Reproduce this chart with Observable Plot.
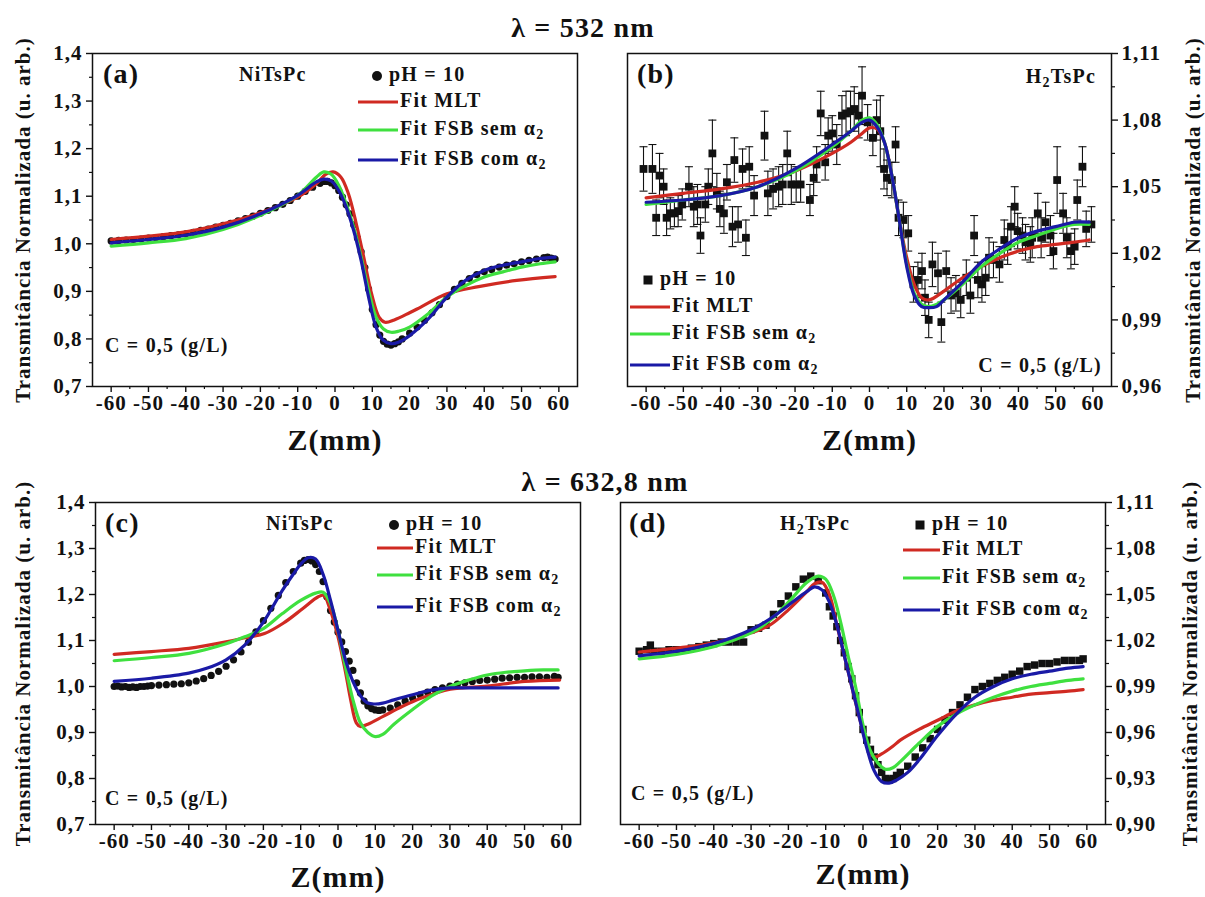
<!DOCTYPE html>
<html><head><meta charset="utf-8">
<script src="https://cdn.jsdelivr.net/npm/d3@7"></script>
<script src="https://cdn.jsdelivr.net/npm/@observablehq/plot@0.6"></script>
<style>
body{margin:0;background:#fff;}
#root{position:relative;width:1205px;height:897px;overflow:hidden;background:#fff;font-family:"Liberation Serif","DejaVu Serif",serif;color:#111;}
.pan{position:absolute;}
.lbl{position:absolute;white-space:nowrap;font-weight:bold;line-height:1;z-index:3;letter-spacing:1.2px;}
.lbl svg{vertical-align:middle;}
.lbl sub{font-size:70%;vertical-align:-0.3em;line-height:0;}
</style></head>
<body><div id="root"></div>
<script>
// ---------- data ----------
const ZMAJOR = [-60,-50,-40,-30,-20,-10,0,10,20,30,40,50,60];
const ZMINOR = [-55,-45,-35,-25,-15,-5,5,15,25,35,45,55];
const NI_YMAJOR = [0.7,0.8,0.9,1.0,1.1,1.2,1.3,1.4];
const NI_YMINOR = [0.75,0.85,0.95,1.05,1.15,1.25,1.35];
const B_YMAJOR = [0.96,0.99,1.02,1.05,1.08,1.11];
const B_YMINOR = [0.975,1.005,1.035,1.065,1.095];
const D_YMAJOR = [0.90,0.93,0.96,0.99,1.02,1.05,1.08,1.11];
const D_YMINOR = [0.915,0.945,0.975,1.005,1.035,1.065,1.095];

// (a) 532 nm, NiTsPc
const aData = [[-60,1.006],[-58,1.007],[-56,1.008],[-54,1.009],[-52,1.010],[-50,1.012],[-48,1.013],[-46,1.015],[-44,1.017],[-42,1.019],[-40,1.021],[-38,1.024],[-36,1.028],[-34,1.031],[-32,1.035],[-30,1.039],[-28,1.043],[-26,1.048],[-24,1.053],[-22,1.058],[-20,1.064],[-18,1.070],[-16,1.076],[-14,1.083],[-12,1.091],[-10,1.100],[-8,1.110],[-6,1.119],[-4,1.127],[-3,1.131],[-2,1.131],[-1,1.128],[0,1.122],[1,1.112],[2,1.098],[3,1.082],[4,1.063],[5,1.040],[6,1.012],[7,0.983],[8,0.950],[9,0.905],[10,0.862],[11,0.830],[12,0.808],[13,0.795],[14,0.789],[15,0.787],[16,0.790],[17,0.794],[18,0.800],[20,0.812],[22,0.825],[24,0.839],[26,0.855],[28,0.872],[30,0.889],[32,0.904],[34,0.917],[36,0.927],[38,0.935],[40,0.941],[42,0.946],[44,0.951],[46,0.955],[48,0.958],[50,0.962],[52,0.965],[54,0.968],[56,0.971],[57,0.972],[58,0.970],[59,0.968]];
const aMLT = [[-60,1.009],[-50,1.016],[-40,1.025],[-30,1.042],[-20,1.065],[-10,1.098],[-5,1.126],[-2.5,1.146],[-0.5,1.151],[1.6,1.140],[3.6,1.105],[5.7,1.042],[7.7,0.972],[9.8,0.895],[11.8,0.846],[13.4,0.835],[15.9,0.840],[20,0.855],[23,0.867],[30,0.895],[38.5,0.910],[48.7,0.923],[59,0.931]];
const aSEM = [[-60,0.995],[-50,1.002],[-40,1.011],[-30,1.030],[-20,1.060],[-10,1.102],[-5,1.140],[-3,1.151],[-1,1.146],[1,1.123],[3,1.084],[5,1.035],[7,0.972],[9,0.902],[11,0.846],[13,0.821],[15,0.814],[17,0.816],[20,0.825],[25,0.853],[30,0.888],[35,0.912],[40,0.930],[45,0.941],[50,0.951],[55,0.958],[59,0.962]];
const aCOM = [[-60,1.002],[-50,1.009],[-40,1.018],[-30,1.035],[-20,1.063],[-10,1.102],[-5,1.130],[-3,1.136],[-1,1.132],[1,1.112],[3,1.077],[5,1.028],[7,0.965],[9,0.888],[11,0.825],[13,0.797],[15,0.790],[17,0.793],[20,0.807],[25,0.842],[30,0.888],[35,0.923],[40,0.944],[45,0.955],[50,0.962],[55,0.969],[59,0.972]];

// (b) 532 nm, H2TsPc : [z, T, erro]
const bData = [[-60.7,1.058,0.010],[-58.3,1.058,0.011],[-57.3,1.036,0.008],[-56.4,1.055,0.010],[-55.3,1.050,0.008],[-54.5,1.036,0.008],[-53.5,1.038,0.007],[-52.4,1.038,0.006],[-51.4,1.039,0.007],[-50.3,1.042,0.007],[-48.5,1.050,0.009],[-47.2,1.041,0.009],[-46.2,1.042,0.009],[-45.4,1.028,0.008],[-44.1,1.042,0.008],[-43.3,1.050,0.008],[-42.2,1.065,0.015],[-41.0,1.048,0.008],[-40.2,1.040,0.008],[-39.1,1.038,0.009],[-38.3,1.052,0.008],[-36.8,1.032,0.009],[-36.3,1.062,0.010],[-35.3,1.033,0.008],[-34.1,1.058,0.009],[-33.2,1.027,0.008],[-32.3,1.059,0.009],[-31.0,1.046,0.009],[-28.2,1.073,0.011],[-27.3,1.047,0.010],[-25.9,1.049,0.009],[-24.4,1.050,0.009],[-23.3,1.051,0.009],[-22.1,1.065,0.010],[-21.0,1.051,0.009],[-19.7,1.051,0.008],[-18.5,1.051,0.008],[-16.0,1.044,0.007],[-15.0,1.054,0.008],[-14.2,1.060,0.008],[-13.1,1.083,0.010],[-11.9,1.061,0.008],[-11.1,1.073,0.008],[-10.0,1.074,0.008],[-8.8,1.069,0.009],[-7.4,1.082,0.009],[-6.3,1.083,0.010],[-5.1,1.084,0.009],[-4.1,1.085,0.010],[-2.9,1.082,0.010],[-2.0,1.091,0.013],[-0.5,1.079,0.008],[0.9,1.072,0.008],[1.9,1.080,0.009],[2.9,1.075,0.016],[3.9,1.058,0.009],[4.7,1.054,0.008],[6.0,1.053,0.008],[7.0,1.069,0.008],[7.8,1.036,0.008],[9.1,1.035,0.008],[10.4,1.029,0.008],[11.8,1.006,0.008],[13.0,1.008,0.008],[14.1,1.012,0.008],[14.9,1.000,0.008],[15.9,0.990,0.008],[16.9,1.015,0.010],[18.4,1.011,0.009],[19.3,0.989,0.009],[20.6,1.012,0.009],[21.9,1.001,0.008],[23.2,1.002,0.008],[24.5,0.999,0.008],[26.0,1.009,0.008],[27.1,1.001,0.008],[28.1,1.028,0.009],[29.1,1.008,0.008],[30.2,1.006,0.008],[31.2,1.009,0.008],[32.1,1.018,0.009],[33.3,1.017,0.008],[34.9,1.015,0.008],[36.2,1.026,0.009],[37.1,1.023,0.008],[38.0,1.032,0.009],[39.0,1.041,0.009],[39.8,1.030,0.008],[41.1,1.028,0.008],[41.9,1.025,0.008],[43.2,1.024,0.008],[43.7,1.027,0.009],[45.2,1.038,0.009],[46.1,1.027,0.009],[47.3,1.034,0.009],[48.6,1.028,0.009],[49.4,1.021,0.008],[50.4,1.053,0.015],[52.0,1.038,0.009],[53.0,1.027,0.009],[54.1,1.021,0.008],[55.1,1.023,0.008],[55.8,1.044,0.009],[57.2,1.059,0.009],[58.2,1.031,0.008],[59.6,1.033,0.008]];
const bMLT = [[-60,1.045],[-50,1.047],[-40,1.049],[-30,1.052],[-20,1.057],[-10,1.065],[-5,1.070],[-2,1.074],[0,1.0765],[2,1.076],[4,1.070],[6,1.055],[8,1.035],[10,1.018],[12,1.006],[14,1.000],[16,0.999],[20,1.003],[25,1.009],[30,1.014],[35,1.018],[40,1.021],[45,1.023],[50,1.024],[55,1.025],[59,1.026]];
const bSEM = [[-60,1.042],[-50,1.044],[-40,1.046],[-30,1.050],[-20,1.057],[-10,1.068],[-5,1.075],[-2,1.080],[0,1.081],[2,1.078],[4,1.070],[6,1.055],[8,1.035],[10,1.015],[12,1.002],[14,0.997],[16,0.996],[18,0.997],[20,0.999],[25,1.006],[30,1.014],[35,1.020],[40,1.025],[45,1.028],[50,1.031],[55,1.033],[59,1.033]];
const bCOM = [[-60,1.043],[-50,1.044],[-40,1.046],[-30,1.050],[-20,1.058],[-10,1.069],[-5,1.075],[-2,1.079],[0,1.080],[2,1.077],[4,1.070],[6,1.055],[8,1.035],[10,1.014],[12,1.001],[14,0.996],[16,0.9955],[18,0.996],[20,0.999],[25,1.007],[30,1.016],[35,1.022],[40,1.027],[45,1.030],[50,1.032],[55,1.034],[59,1.034]];

// (c) 632,8 nm, NiTsPc
const cData = [[-60,1.000],[-59,1.001],[-58,0.999],[-57,1.000],[-56,0.998],[-55,0.999],[-54,0.998],[-53,1.000],[-52,1.000],[-51,1.001],[-50,1.002],[-48,1.003],[-46,1.004],[-44,1.005],[-42,1.006],[-40,1.008],[-38,1.012],[-36,1.017],[-34,1.024],[-32,1.033],[-30,1.044],[-28,1.058],[-26,1.075],[-24,1.096],[-22,1.119],[-20,1.143],[-18,1.170],[-16,1.198],[-14,1.226],[-12,1.250],[-10,1.268],[-9,1.274],[-8,1.276],[-7,1.273],[-6,1.265],[-5,1.250],[-4,1.228],[-3,1.195],[-2,1.165],[-1,1.140],[0,1.118],[1,1.097],[2,1.076],[3,1.055],[4,1.035],[5,1.008],[6,0.986],[7,0.968],[8,0.958],[9,0.952],[10,0.949],[11,0.948],[12,0.949],[14,0.953],[16,0.960],[18,0.968],[20,0.975],[22,0.982],[24,0.988],[26,0.993],[28,0.997],[30,1.001],[32,1.005],[34,1.008],[36,1.011],[38,1.013],[40,1.014],[42,1.016],[44,1.018],[46,1.019],[48,1.020],[50,1.020],[52,1.021],[54,1.021],[56,1.020],[58,1.022],[59,1.020]];
const cMLT = [[-60,1.070],[-50,1.076],[-40,1.083],[-30,1.097],[-24.9,1.106],[-19.7,1.115],[-14.6,1.138],[-9.5,1.169],[-5.3,1.195],[-3.8,1.198],[-2.3,1.172],[-0.2,1.115],[1.9,1.036],[3.4,0.971],[4.9,0.921],[6,0.913],[8,0.918],[12.1,0.935],[17.3,0.957],[22.4,0.975],[30.1,0.994],[39.9,1.001],[50.1,1.011],[59.4,1.014]];
const cSEM = [[-60,1.056],[-50,1.063],[-40,1.072],[-30,1.093],[-25,1.108],[-20,1.126],[-15,1.158],[-10,1.187],[-6,1.203],[-4,1.205],[-2,1.180],[0,1.122],[2,1.043],[4,0.971],[6,0.921],[8,0.900],[10,0.891],[12,0.896],[15,0.918],[20,0.950],[25,0.979],[30,1.000],[35,1.014],[40,1.025],[45,1.031],[50,1.034],[55,1.036],[59,1.036]];
const cCOM = [[-60,1.011],[-50,1.018],[-40,1.029],[-35,1.040],[-30,1.058],[-25,1.090],[-20,1.140],[-15,1.208],[-12,1.244],[-10,1.266],[-8,1.280],[-6,1.277],[-4,1.244],[-2,1.187],[0,1.122],[2,1.058],[4,1.011],[6,0.980],[8,0.964],[10,0.962],[12,0.964],[15,0.971],[20,0.982],[25,0.992],[30,0.997],[35,0.997],[40,0.997],[50,0.997],[59,0.997]];

// (d) 632,8 nm, H2TsPc
const dData = [[-60,1.013],[-58,1.014],[-57,1.017],[-56,1.013],[-54,1.013],[-52,1.014],[-50,1.014],[-48,1.014],[-46,1.015],[-44,1.016],[-42,1.017],[-40,1.018],[-38,1.019],[-36,1.019],[-34,1.019],[-32,1.019],[-30,1.027],[-28,1.028],[-26,1.030],[-24,1.037],[-22,1.044],[-20,1.049],[-18,1.055],[-16,1.060],[-14,1.062],[-12,1.059],[-10,1.051],[-9,1.042],[-8,1.036],[-7,1.029],[-6,1.020],[-5,1.012],[-4,1.003],[-3,0.995],[-2,0.984],[-1,0.973],[0,0.962],[1,0.955],[2,0.949],[3,0.944],[4,0.939],[5,0.934],[6,0.930],[7,0.929],[8,0.930],[9,0.932],[10,0.934],[12,0.938],[14,0.944],[16,0.950],[18,0.956],[20,0.962],[22,0.968],[24,0.973],[26,0.978],[28,0.983],[30,0.988],[32,0.990],[34,0.992],[36,0.994],[38,0.996],[40,0.998],[42,1.000],[44,1.003],[46,1.004],[48,1.005],[50,1.005],[52,1.006],[54,1.007],[56,1.007],[58,1.007],[59,1.008]];
const dMLT = [[-60,1.0125],[-50,1.015],[-40,1.0185],[-30,1.025],[-25,1.030],[-20,1.040],[-15,1.052],[-13,1.057],[-11,1.058],[-9,1.050],[-7,1.030],[-5,1.010],[-3,0.990],[-1,0.970],[1,0.953],[3,0.944],[5,0.946],[8,0.951],[10,0.955],[15,0.962],[20,0.968],[25,0.974],[30,0.978],[35,0.981],[40,0.983],[45,0.985],[50,0.986],[55,0.987],[59,0.988]];
const dSEM = [[-60,1.008],[-50,1.011],[-40,1.016],[-30,1.025],[-25,1.033],[-20,1.045],[-15,1.058],[-12,1.062],[-10,1.060],[-8,1.050],[-6,1.032],[-4,1.010],[-2,0.990],[0,0.965],[2,0.948],[4,0.940],[6,0.936],[8,0.937],[10,0.941],[15,0.953],[20,0.964],[25,0.972],[30,0.978],[35,0.983],[40,0.987],[45,0.990],[50,0.992],[55,0.994],[59,0.995]];
const dCOM = [[-60,1.010],[-50,1.013],[-40,1.018],[-30,1.027],[-25,1.034],[-20,1.043],[-15,1.052],[-13,1.055],[-11,1.053],[-9,1.045],[-7,1.030],[-5,1.010],[-3,0.990],[-1,0.970],[1,0.950],[3,0.935],[5,0.928],[7,0.927],[9,0.929],[12,0.934],[15,0.942],[20,0.958],[25,0.972],[30,0.983],[35,0.990],[40,0.995],[45,0.998],[50,1.000],[55,1.002],[59,1.003]];

// ---------- styling ----------
const RED = "#d02a22", GREEN = "#3fe03f", BLUE = "#1a1aa6", INK = "#111";
const FONT = "'Liberation Serif','DejaVu Serif',serif";
const YLABEL = "Transmitância Normalizada (u. arb.)";
const XLABEL = "Z(mm)";
const comma = (n) => (d) => d.toFixed(n).replace(".", ",");
const capSymbol = {draw(ctx){ ctx.moveTo(-4,0); ctx.lineTo(4,0); }};

const root = document.getElementById("root");

function panel(p) {
  const X = d => d[0], Y = d => d[1];
  const fit = (arr, c) => Plot.line(arr, {x: X, y: Y, stroke: c, strokeWidth: 3.2, curve: "catmull-rom"});
  const dataMarks = [];
  if (p.err) {
    dataMarks.push(Plot.ruleX(p.data, {x: X, y1: d => d[1] - d[2], y2: d => d[1] + d[2], stroke: INK, strokeWidth: 1.1}));
    dataMarks.push(Plot.dot(p.data, {x: X, y: d => d[1] + d[2], symbol: capSymbol, stroke: INK, strokeWidth: 1.1, fill: "none"}));
    dataMarks.push(Plot.dot(p.data, {x: X, y: d => d[1] - d[2], symbol: capSymbol, stroke: INK, strokeWidth: 1.1, fill: "none"}));
  }
  dataMarks.push(Plot.dot(p.data, {x: X, y: Y, symbol: p.symbol, r: p.r, fill: INK, stroke: "none"}));
  const right = p.yAnchor === "right";
  const svg = Plot.plot({
    width: p.w, height: p.h,
    marginLeft: p.ml, marginRight: p.mr, marginTop: p.mt, marginBottom: p.mb,
    x: {domain: [-65, 65], label: null},
    y: {domain: p.yDomain, label: null},
    style: {fontFamily: FONT, fontSize: "21px", fontWeight: "bold", color: INK, background: "transparent", overflow: "visible", letterSpacing: "1px"},
    marks: [
      ...dataMarks,
      fit(p.mlt, RED), fit(p.sem, GREEN), fit(p.com, BLUE),
      Plot.frame({stroke: INK, strokeWidth: 1.5}),
      Plot.axisX({ticks: ZMAJOR, tickSize: 6, tickPadding: 3, tickFormat: d => String(d), label: null, fontSize: 21, fontWeight: "bold", strokeWidth: 1.4}),
      Plot.axisX({ticks: ZMINOR, tickSize: 3, tickFormat: () => "", label: null, strokeWidth: 1.2}),
      Plot.axisY({anchor: p.yAnchor, ticks: p.yMajor, tickSize: 6, tickPadding: 4, tickFormat: p.fmt, label: null, fontSize: 21, fontWeight: "bold", strokeWidth: 1.4}),
      Plot.axisY({anchor: p.yAnchor, ticks: p.yMinor, tickSize: 3, tickFormat: () => "", label: null, strokeWidth: 1.2}),
      Plot.text([YLABEL], {text: d => d, frameAnchor: right ? "right" : "left", dx: p.ylDx, rotate: -90, textAnchor: "middle", lineAnchor: "middle", fontSize: 21, fontWeight: "bold"}),
      Plot.text([XLABEL], {text: d => d, frameAnchor: "bottom", dy: p.xlDy, textAnchor: "middle", lineAnchor: "middle", fontSize: 30, fontWeight: "bold"})
    ]
  });
  const wrap = document.createElement("div");
  wrap.className = "pan";
  wrap.style.left = p.left + "px";
  wrap.style.top = p.top + "px";
  wrap.appendChild(svg);
  root.appendChild(wrap);
}

panel({left: 0, top: 0, w: 602, h: 455, ml: 92, mr: 25, mt: 53, mb: 69,
  yDomain: [0.7, 1.4], yMajor: NI_YMAJOR, yMinor: NI_YMINOR, fmt: comma(1), yAnchor: "left",
  data: aData, symbol: "circle", r: 3.6, mlt: aMLT, sem: aSEM, com: aCOM, ylDx: -69, xlDy: 54});
panel({left: 602, top: 0, w: 603, h: 455, ml: 25, mr: 94, mt: 53, mb: 69,
  yDomain: [0.96, 1.11], yMajor: B_YMAJOR, yMinor: B_YMINOR, fmt: comma(2), yAnchor: "right",
  data: bData, err: true, symbol: "square", r: 4.4, mlt: bMLT, sem: bSEM, com: bCOM, ylDx: 82, xlDy: 54});
panel({left: 0, top: 455, w: 602, h: 442, ml: 95, mr: 22, mt: 47, mb: 73,
  yDomain: [0.7, 1.4], yMajor: NI_YMAJOR, yMinor: NI_YMINOR, fmt: comma(1), yAnchor: "left",
  data: cData, symbol: "circle", r: 3.6, mlt: cMLT, sem: cSEM, com: cCOM, ylDx: -72, xlDy: 53});
panel({left: 602, top: 455, w: 603, h: 442, ml: 18, mr: 100, mt: 47, mb: 73,
  yDomain: [0.90, 1.11], yMajor: D_YMAJOR, yMinor: D_YMINOR, fmt: comma(2), yAnchor: "right",
  data: dData, symbol: "square", r: 4.2, mlt: dMLT, sem: dSEM, com: dCOM, ylDx: 85, xlDy: 50});

// ---------- titles, annotations and legends (HTML) ----------
function lbl(html, x, y, size, anchor) {
  const el = document.createElement("div");
  el.className = "lbl";
  el.innerHTML = html;
  el.style.left = x + "px";
  el.style.top = y + "px";
  el.style.fontSize = size + "px";
  const tx = anchor === "end" ? "-100%" : anchor === "middle" ? "-50%" : "0";
  el.style.transform = `translate(${tx},-50%)`;
  root.appendChild(el);
  return el;
}
const lineSw = (c, w) => `<svg width="${w}" height="8" style="margin-right:2px"><line x1="0" x2="${w}" y1="4" y2="4" stroke="${c}" stroke-width="3.2"/></svg>`;
const circSw = `<svg width="12" height="12" style="margin-right:6px"><circle cx="6" cy="6" r="5" fill="${INK}"/></svg>`;
const sqSw = `<svg width="12" height="12" style="margin-right:6px"><rect x="1.5" y="1.5" width="9" height="9" fill="${INK}"/></svg>`;
const A2 = "α<sub>2</sub>";
const H2 = "H<sub>2</sub>TsPc";
const LEG = 20;

function legend(sym, symX, yP, rows, lineX, lineW) {
  lbl(sym + "pH = 10", symX, yP, LEG);
  const names = ["Fit MLT", "Fit FSB sem " + A2, "Fit FSB com " + A2];
  const cols = [RED, GREEN, BLUE];
  rows.forEach((y, i) => lbl(lineSw(cols[i], lineW) + names[i], lineX, y, LEG));
}

lbl("λ = 532 nm", 583, 28, 28, "middle");
lbl("λ = 632,8 nm", 605, 482, 28, "middle");

// (a)
lbl("(a)", 103, 74, 28);
lbl("NiTsPc", 239, 74, LEG);
legend(circSw, 371, 74, [100, 128, 158], 358, 40);
lbl("C = 0,5 (g/L)", 105, 345, LEG);
// (b)
lbl("(b)", 637, 74, 28);
lbl(H2, 1096, 76, LEG, "end");
legend(sqSw, 642, 278, [305, 332, 363], 630, 40);
lbl("C = 0,5 (g/L)", 1102, 365, LEG, "end");
// (c)
lbl("(c)", 105, 523, 28);
lbl("NiTsPc", 266, 523, LEG);
legend(circSw, 388, 523, [546, 573, 605], 377, 36);
lbl("C = 0,5 (g/L)", 105, 798, LEG);
// (d)
lbl("(d)", 629, 523, 28);
lbl(H2, 780, 523, LEG);
legend(sqSw, 914, 523, [548, 576, 608], 903, 37);
lbl("C = 0,5 (g/L)", 631, 793, LEG);
</script>
</body></html>
